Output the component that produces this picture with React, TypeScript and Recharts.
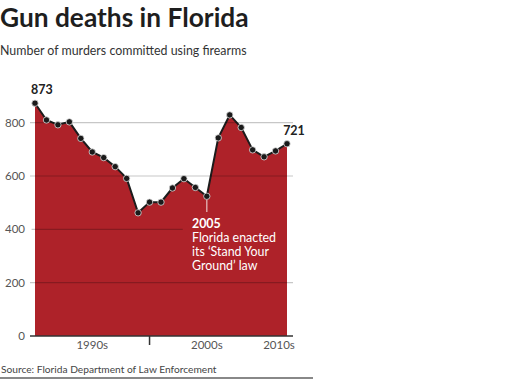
import { AreaChart, Area, XAxis, YAxis, ReferenceLine, LabelList } from 'recharts';

const years = [1990, 1991, 1992, 1993, 1994, 1995, 1996, 1997, 1998, 1999, 2000, 2001, 2002, 2003, 2004, 2005, 2006, 2007, 2008, 2009, 2010, 2011, 2012];
const murders = [873, 810, 792, 803, 741, 690, 669, 635, 591, 462, 502, 502, 555, 590, 557, 524, 743, 829, 782, 698, 672, 694, 721];
const yTicks = [0, 200, 400, 600, 800];
const decadeBreaks = [2000, 2010];
const decadeLabels = [
    { at: 1995, text: '1990s' },
    { at: 2005, text: '2000s' },
    { at: 2011.3, text: '2010s' },
];

const data = years.map((year, i) => ({ year, murders: murders[i] }));

const font = 'Lato, "Noto Sans", sans-serif';

const XTick = (props: any) => {
    const { x, y, payload } = props;
    if (decadeBreaks.includes(payload.value)) {
        return <line x1={x} x2={x} y1={y} y2={y + 9} stroke='#333' strokeWidth={1.5} />;
    }
    const lbl = decadeLabels.find(d => d.at === payload.value);
    return (
        <text x={x} y={y + 13} textAnchor='middle' fontSize={11.5} fill='#555' fontFamily={font}>
            {lbl ? lbl.text : ''}
        </text>
    );
};

const EndLabel = (props: any) => {
    const { x, y, value, index } = props;
    if (index !== 0 && index !== murders.length - 1) return null;
    return (
        <text x={x} y={y - 9} textAnchor={index === 0 ? 'start' : 'middle'} dx={index === 0 ? -4 : 7}
            fontSize={12.5} fontWeight={700} fill='#222' fontFamily={font}>
            {value}
        </text>
    );
};

const App = () => {
    return (
        <div style={{ position: 'absolute', left: 0, top: 0, width: 505, height: 381, background: '#fff', fontFamily: font }}>
            <div style={{ position: 'absolute', left: 0, top: 2, fontSize: 26.3, fontWeight: 700, color: '#1e1e1e', lineHeight: '30px' }}>
                Gun deaths in Florida
            </div>
            <div style={{ position: 'absolute', left: 0, top: 42, fontSize: 12.4, color: '#333', lineHeight: '18px' }}>
                Number of murders committed using firearms
            </div>
            <div style={{ position: 'absolute', left: 0, top: 0 }}>
                <AreaChart width={320} height={352} data={data} margin={{ top: 96, right: 27, left: 0, bottom: 0 }}>
                    <XAxis dataKey='year' type='number' domain={[1990, 2012]} ticks={[1995, 2000, 2005, 2010, 2011.3]}
                        tick={<XTick />} tickLine={false} tickSize={0} tickMargin={0} height={16}
                        padding={{ left: 5, right: 6 }} axisLine={{ stroke: '#333', strokeWidth: 1.5 }} />
                    <YAxis domain={[0, 900]} ticks={yTicks} width={30} axisLine={false} tickLine={false}
                        tickSize={0} tickMargin={5} tick={{ fontSize: 11.5, fill: '#555', fontFamily: font }} />
                    <Area type='linear' dataKey='murders' stroke='#1c1c1c' strokeWidth={2} fill='#ae2229' fillOpacity={1}
                        isAnimationActive={false}
                        dot={{ r: 3.2, fill: '#1a1a1a', stroke: '#ddd', strokeWidth: 0.8, fillOpacity: 1 }}>
                        <LabelList dataKey='murders' content={<EndLabel />} />
                    </Area>
                    <ReferenceLine y={200} stroke='rgba(0,0,0,0.22)' strokeWidth={1.2} />
                    <ReferenceLine ifOverflow='visible' segment={[{ x: 1989.7, y: 400 }, { x: 2002.9, y: 400 }]} stroke='rgba(0,0,0,0.22)' strokeWidth={1.2} />
                    <ReferenceLine y={600} stroke='rgba(0,0,0,0.22)' strokeWidth={1.2} />
                    <ReferenceLine y={800} stroke='rgba(0,0,0,0.22)' strokeWidth={1.2} />
                    <ReferenceLine segment={[{ x: 2005, y: 512 }, { x: 2005, y: 465 }]} stroke='#e6c4c4' strokeWidth={1.2} />
                </AreaChart>
            </div>
            <div style={{ position: 'absolute', left: 192, top: 217, color: '#fff', fontSize: 12.4, lineHeight: '14px' }}>
                <div style={{ fontWeight: 700 }}>2005</div>
                <div>Florida enacted</div>
                <div>its ‘Stand Your</div>
                <div>Ground’ law</div>
            </div>
            <div style={{ position: 'absolute', left: 1, top: 362, fontSize: 10.2, color: '#444', lineHeight: '14px' }}>
                Source: Florida Department of Law Enforcement
            </div>
            <div style={{ position: 'absolute', left: 0, top: 377, width: 313, height: 2, background: '#888' }} />
        </div>
    );
};

export default App;
